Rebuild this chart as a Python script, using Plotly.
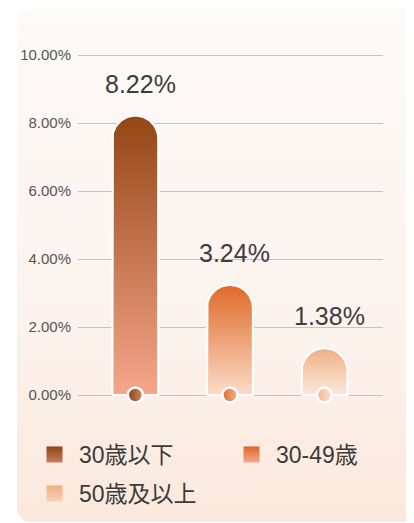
import base64
import numpy as np
import plotly.graph_objects as go

# ---------------- data ----------------
categories = ["30歳以下", "30-49歳", "50歳及以上"]
values = [8.22, 3.24, 1.38]
value_labels = ["8.22%", "3.24%", "1.38%"]
tick_values = [0, 2, 4, 6, 8, 10]
tick_labels = ["0.00%", "2.00%", "4.00%", "6.00%", "8.00%", "10.00%"]

# ---------------- styles ----------------
bar_top_colors = ["#944616", "#df6a28", "#eeb083"]
bar_bottom_colors = ["#f6a68b", "#fcdbc8", "#fce8dc"]
legend_top_colors = ["#8f4317", "#e0672a", "#efb084"]
legend_bottom_colors = ["#c97a5c", "#f3a988", "#f8d0b6"]
dot_left_colors = ["#8a3f16", "#df6a2d", "#f0b58e"]
dot_right_colors = ["#d08a65", "#f4b28f", "#fde3d3"]

FONT = "Liberation Sans, Arial, Noto Sans CJK JP, sans-serif"
W, H = 414, 523
PX_L, PX_R = 70, 375
PX_T, PX_B = 32, 402
ZERO_PX = 387
PX_PER_UNIT = 34.0
X_LO, X_HI = -0.606, 2.618
Y_LO = -(PX_B - ZERO_PX) / PX_PER_UNIT
Y_HI = (ZERO_PX - PX_T) / PX_PER_UNIT
px_per_x = (PX_R - PX_L) / (X_HI - X_LO)
BAR_PX = 46
half_w = BAR_PX / 2 / px_per_x
ry = BAR_PX / 2 / PX_PER_UNIT

fig = go.Figure()

# bars with rounded tops and vertical gradient
theta = np.linspace(np.pi, 0, 48)
for i, v in enumerate(values):
    xs = [i - half_w] + list(i + half_w * np.cos(theta)) + [i + half_w, i - half_w]
    ys = [0] + list(v - ry + ry * np.sin(theta)) + [0, 0]
    fig.add_trace(go.Scatter(
        x=xs, y=ys, mode="lines", fill="toself",
        fillgradient=dict(type="vertical",
                          colorscale=[[0, bar_bottom_colors[i]], [1, bar_top_colors[i]]]),
        line=dict(color="white", width=2.2),
        hoverinfo="skip", showlegend=False,
    ))

# dots at the base
fig.add_trace(go.Scatter(
    x=list(range(len(values))), y=[0] * len(values), mode="markers",
    marker=dict(size=15, color=dot_left_colors,
                gradient=dict(type="horizontal", color=dot_right_colors),
                line=dict(color="white", width=2.5)),
    hoverinfo="skip", showlegend=False, cliponaxis=False,
))

# legend entries (two legends so the second row sits lower)
for i, c in enumerate(categories):
    fig.add_trace(go.Scatter(
        x=[None], y=[None], mode="markers", name=c,
        legend="legend" if i < 2 else "legend2",
        marker=dict(symbol="square", size=16, color=legend_top_colors[i],
                    gradient=dict(type="vertical", color=legend_bottom_colors[i]),
                    line=dict(width=0)),
    ))

# value labels
for i, (v, t) in enumerate(zip(values, value_labels)):
    fig.add_annotation(x=i, y=v, text=t, showarrow=False, xanchor="center",
                       yanchor="bottom", yshift=16, xshift=5,
                       font=dict(family=FONT, size=25, color="#3d3d3d"))

svg = (
    "<svg xmlns='http://www.w3.org/2000/svg' width='400' height='514'>"
    "<defs><linearGradient id='g' x1='0' y1='0' x2='0' y2='1'>"
    "<stop offset='0' stop-color='#fdfaf8'/>"
    "<stop offset='0.6' stop-color='#fcf3ee'/>"
    "<stop offset='1' stop-color='#fbe8dc'/>"
    "</linearGradient></defs>"
    "<rect x='0' y='0' width='400' height='514' rx='14' ry='14' fill='url(#g)'/></svg>"
)
src = "data:image/svg+xml;base64," + base64.b64encode(svg.encode()).decode()

legend_common = dict(orientation="h", xanchor="left", yanchor="top",
                     entrywidth=143, entrywidthmode="pixels", itemsizing="trace",
                     itemwidth=39,
                     font=dict(family=FONT, size=23, color="#3a3a3a"),
                     bgcolor="rgba(0,0,0,0)")

fig.update_layout(
    width=W, height=H,
    margin=dict(l=0, r=0, t=0, b=0, autoexpand=False),
    paper_bgcolor="white", plot_bgcolor="rgba(0,0,0,0)",
    images=[dict(source=src, xref="paper", yref="paper", x=9 / W, y=1,
                 sizex=400 / W, sizey=514 / H, xanchor="left", yanchor="top",
                 sizing="stretch", layer="below")],
    xaxis=dict(domain=[PX_L / W, PX_R / W], range=[X_LO, X_HI], showgrid=False,
               zeroline=False, showticklabels=False, showline=False, fixedrange=True),
    yaxis=dict(domain=[1 - PX_B / H, 1 - PX_T / H], range=[Y_LO, Y_HI],
               tickvals=tick_values, ticktext=tick_labels, showgrid=True,
               gridcolor="#c2c2c2", gridwidth=1.3, zeroline=False, showline=False,
               ticks="", ticklabelstandoff=6,
               tickfont=dict(family=FONT, size=15, color="#555555"), fixedrange=True),
    legend=dict(x=22 / W, y=1 - 425 / H, **legend_common),
    legend2=dict(x=22 / W, y=1 - 464 / H, **legend_common),
    showlegend=True,
)

fig.write_html("out.html")
